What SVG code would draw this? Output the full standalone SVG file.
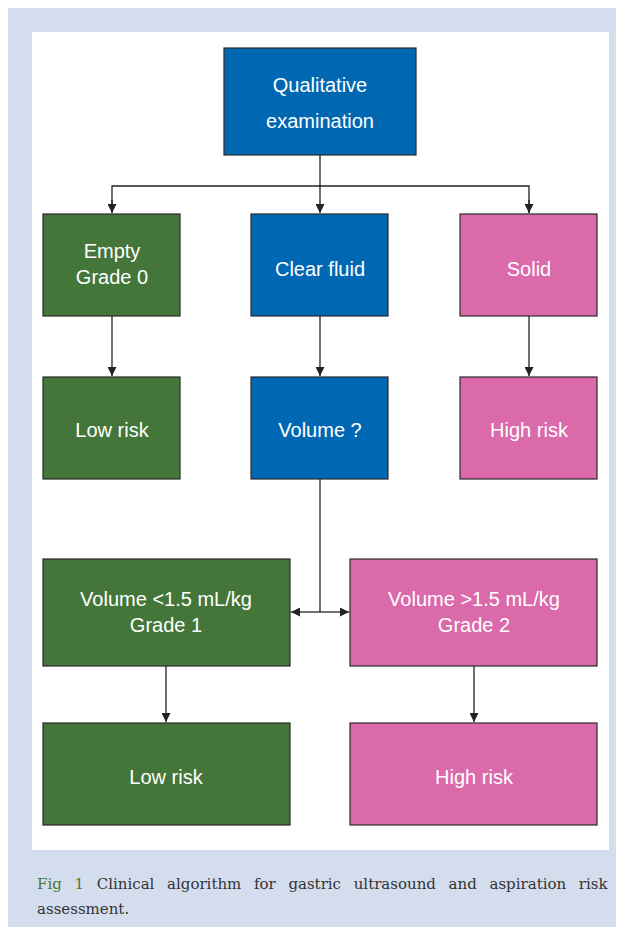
<svg xmlns="http://www.w3.org/2000/svg" width="624" height="927" viewBox="0 0 624 927">
<style>
.box{stroke:#2a2a2a;stroke-width:1.2}
.g{fill:#44763a}.b{fill:#0068b3}.p{fill:#db6aab}
.t{font-family:"Liberation Sans",Arial,sans-serif;font-size:20px;fill:#fff;text-anchor:middle}
.c{stroke:#222;stroke-width:1.3;fill:none}
.cap{font-family:"DejaVu Serif","Liberation Serif",serif;font-size:15px;fill:#333}
</style>
<defs>
<marker id="ah" viewBox="0 0 10 10" refX="10" refY="5" markerWidth="9" markerHeight="9" markerUnits="userSpaceOnUse" orient="auto"><path d="M0,0 L10,5 L0,10 z" fill="#222"/></marker>
</defs>
<rect x="8" y="8" width="608" height="919" fill="#d4ddee"/>
<rect x="32" y="32" width="577" height="818" fill="#fff"/>
<g id="connectors">
<path class="c" d="M320,155 V213" marker-end="url(#ah)"/>
<path class="c" d="M112,213 V186 H529 V213" />
<path class="c" d="M112,200 V213" marker-end="url(#ah)"/>
<path class="c" d="M529,200 V213" marker-end="url(#ah)"/>
<path class="c" d="M112,316 V376" marker-end="url(#ah)"/>
<path class="c" d="M320,316 V376" marker-end="url(#ah)"/>
<path class="c" d="M529,316 V376" marker-end="url(#ah)"/>
<path class="c" d="M320,479 V612"/>
<path class="c" d="M320,612 H291" marker-end="url(#ah)"/>
<path class="c" d="M320,612 H349" marker-end="url(#ah)"/>
<path class="c" d="M166,666 V722" marker-end="url(#ah)"/>
<path class="c" d="M474,666 V722" marker-end="url(#ah)"/>
</g>
<g id="n-qual"><rect class="box b" x="224" y="48" width="192" height="107"/><text class="t" x="320" y="92">Qualitative</text><text class="t" x="320" y="128">examination</text></g>
<g id="n-empty"><rect class="box g" x="43" y="214" width="137" height="102"/><text class="t" x="112" y="258">Empty</text><text class="t" x="112" y="284">Grade 0</text></g>
<g id="n-clear"><rect class="box b" x="251" y="214" width="137" height="102"/><text class="t" x="320" y="276">Clear fluid</text></g>
<g id="n-solid"><rect class="box p" x="460" y="214" width="137" height="102"/><text class="t" x="529" y="276">Solid</text></g>
<g id="n-low1"><rect class="box g" x="43" y="377" width="137" height="102"/><text class="t" x="112" y="437">Low risk</text></g>
<g id="n-vol"><rect class="box b" x="251" y="377" width="137" height="102"/><text class="t" x="320" y="437">Volume ?</text></g>
<g id="n-high1"><rect class="box p" x="460" y="377" width="137" height="102"/><text class="t" x="529" y="437">High risk</text></g>
<g id="n-vlow"><rect class="box g" x="43" y="559" width="247" height="107"/><text class="t" x="166" y="606">Volume &lt;1.5 mL/kg</text><text class="t" x="166" y="632">Grade 1</text></g>
<g id="n-vhigh"><rect class="box p" x="350" y="559" width="247" height="107"/><text class="t" x="474" y="606">Volume &gt;1.5 mL/kg</text><text class="t" x="474" y="632">Grade 2</text></g>
<g id="n-low2"><rect class="box g" x="43" y="723" width="247" height="102"/><text class="t" x="166" y="784">Low risk</text></g>
<g id="n-high2"><rect class="box p" x="350" y="723" width="247" height="102"/><text class="t" x="474" y="784">High risk</text></g>
<text class="cap" x="37" y="889" word-spacing="7.9"><tspan fill="#4a7a3a">Fig 1</tspan> Clinical algorithm for gastric ultrasound and aspiration risk</text>
<text class="cap" x="37" y="914">assessment.</text>
</svg>
